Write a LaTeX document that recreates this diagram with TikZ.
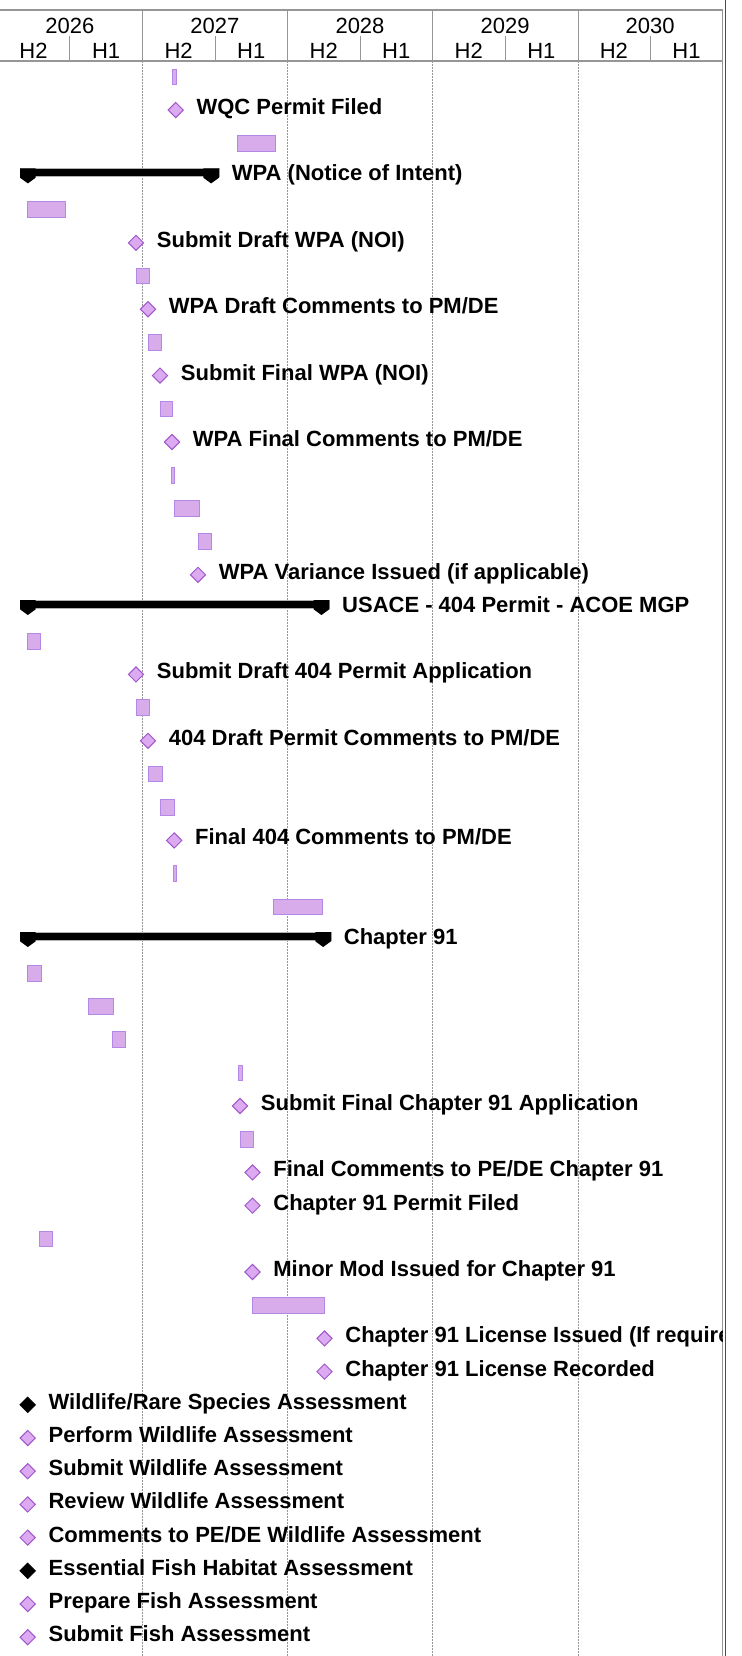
\documentclass[tikz,border=0pt]{standalone}
\usepackage{fontspec}
\setmainfont{Liberation Sans}
\usepackage{xcolor}
\usetikzlibrary{shapes.geometric}
\definecolor{barfill}{RGB}{216,172,234}
\definecolor{barline}{RGB}{180,136,230}
\definecolor{msfill}{RGB}{220,170,240}
\definecolor{msline}{RGB}{160,86,202}
\definecolor{gridgray}{RGB}{150,150,150}
% one row of the chart is 33.2px high, first row centred at 76.8px
\newcommand{\GBar}[3]{\draw[taskbar] (#2,{76.8+33.2*#1-7.8}) rectangle (#3,{76.8+33.2*#1+7.8});}
\newcommand{\GMile}[5][mile]{\node[#1] (#5) at (#3,{76.8+33.2*#2}) {};
  \node[lbl] (#5t) at (#3+20.5,{76.8+33.2*#2+4.5}) {#4};}
\newcommand{\GSum}[5]{\pgfmathsetmacro{\rowc}{76.8+33.2*#1}
  \fill[black, draw=gray!60, line width=0.3pt] (#2,\rowc-8) rectangle (#3,\rowc+0.3);
  \fill[black] (#2,\rowc-8) -- ++(15.7,0) -- ++(0,9.3) -- ++(-7.85,5.7) -- ++(-7.85,-5.7) -- cycle;
  \fill[black] (#3,\rowc-8) -- ++(-15.7,0) -- ++(0,9.3) -- ++(7.85,5.7) -- ++(7.85,-5.7) -- cycle;
  \node[lbl] (#5) at (#3+12.5,\rowc+4.5) {#4};}

\begin{document}
\begin{tikzpicture}[x=0.5pt, y=-0.5pt,
  taskbar/.style={fill=barfill, draw=barline, line width=0.4pt},
  mile/.style={diamond, fill=msfill, draw=msline, line width=0.5pt, inner sep=0pt, minimum width=7.8pt, minimum height=7.8pt},
  sumile/.style={mile, fill=black, draw=black},
  lbl/.style={anchor=base west, inner sep=0pt, font=\bfseries\fontsize{11}{13}\selectfont},
  hdr/.style={anchor=base, inner sep=0pt, font=\fontsize{11}{13}\selectfont}]
\useasboundingbox (0,0) rectangle (741,1656);
%%%%%%%%% header
\draw [gridgray, line width=0.6pt] (0,10) -- (722.7,10);
\draw [gridgray, line width=0.8pt] (0,61) -- (722.7,61);
\draw [gridgray, line width=0.5pt] (69.8,36) -- (69.8,61);
\draw [gridgray, line width=0.5pt] (215,36) -- (215,61);
\draw [gridgray, line width=0.5pt] (360,36) -- (360,61);
\draw [gridgray, line width=0.5pt] (505,36) -- (505,61);
\draw [gridgray, line width=0.5pt] (650.7,36) -- (650.7,61);
\node [hdr] (y26) at (69.8,33.3) {2026};
\node [hdr] (y27) at (214.9,33.3) {2027};
\node [hdr] (y28) at (360,33.3) {2028};
\node [hdr] (y29) at (505.1,33.3) {2029};
\node [hdr] (y30) at (650.2,33.3) {2030};
\node [hdr] (h1) at (33.5,58.3) {H2};
\node [hdr] (h2) at (106.1,58.3) {H1};
\node [hdr] (h3) at (178.6,58.3) {H2};
\node [hdr] (h4) at (251.2,58.3) {H1};
\node [hdr] (h5) at (323.7,58.3) {H2};
\node [hdr] (h6) at (396.3,58.3) {H1};
\node [hdr] (h7) at (468.8,58.3) {H2};
\node [hdr] (h8) at (541.4,58.3) {H1};
\node [hdr] (h9) at (613.9,58.3) {H2};
\node [hdr] (h10) at (686.5,58.3) {H1};
%%%%%%%%% year lines
\draw [gridgray, line width=0.6pt] (142.5,10) -- (142.5,61);
\draw [gridgray, line width=0.6pt] (287.4,10) -- (287.4,61);
\draw [gridgray, line width=0.6pt] (432.7,10) -- (432.7,61);
\draw [gridgray, line width=0.6pt] (578.4,10) -- (578.4,61);
\draw [gridgray, line width=0.5pt, dash pattern=on 1pt off 0.5pt] (142.5,61) -- (142.5,1656);
\draw [gridgray, line width=0.5pt, dash pattern=on 1pt off 0.5pt] (287.4,61) -- (287.4,1656);
\draw [gridgray, line width=0.5pt, dash pattern=on 1pt off 0.5pt] (432.7,61) -- (432.7,1656);
\draw [gridgray, line width=0.5pt, dash pattern=on 1pt off 0.5pt] (578.4,61) -- (578.4,1656);
\draw [gridgray, line width=0.6pt] (722.7,10) -- (722.7,1656);
\draw [black!70, line width=0.7pt] (725.6,0) -- (725.6,1656);
%%%%%%%%% tasks
\begin{scope}
\clip (0,0) rectangle (722,1656);
\GBar{0}{172.3}{176}
\GMile{1}{175.7}{WQC Permit Filed}{wqc}
\GBar{2}{237.3}{275}
\GSum{3}{20}{219}{WPA (Notice of Intent)}{wpa}
\GBar{4}{27.3}{65}
\GMile{5}{136}{Submit Draft WPA (NOI)}{wpad}
\GBar{6}{136}{149}
\GMile{7}{148}{WPA Draft Comments to PM/DE}{wpadc}
\GBar{8}{147.9}{161.5}
\GMile{9}{160}{Submit Final WPA (NOI)}{wpaf}
\GBar{10}{160.4}{172}
\GMile{11}{172}{WPA Final Comments to PM/DE}{wpafc}
\GBar{12}{171}{174}
\GBar{13}{174}{199.5}
\GBar{14}{198.5}{211}
\GMile{15}{198}{WPA Variance Issued (if applicable)}{wpav}
\GSum{16}{20}{329.3}{USACE - 404 Permit - ACOE MGP}{usace}
\GBar{17}{27.3}{40.7}
\GMile{18}{136}{Submit Draft 404 Permit Application}{pd}
\GBar{19}{136}{149}
\GMile{20}{148}{404 Draft Permit Comments to PM/DE}{pdc}
\GBar{21}{148}{162.5}
\GBar{22}{160.4}{174}
\GMile{23}{174.2}{Final 404 Comments to PM/DE}{pfc}
\GBar{24}{173}{176}
\GBar{25}{273}{322.6}
\GSum{26}{20}{331}{Chapter 91}{ch}
\GBar{27}{27}{41}
\GBar{28}{88}{113.4}
\GBar{29}{112}{125.2}
\GBar{30}{238.5}{241.9}
\GMile{31}{240}{Submit Final Chapter 91 Application}{chf}
\GBar{32}{240}{253.7}
\GMile{33}{252.5}{Final Comments to PE/DE Chapter 91}{chfc}
\GMile{34}{252.5}{Chapter 91 Permit Filed}{chpf}
\GBar{35}{39}{52.8}
\GMile{36}{252.5}{Minor Mod Issued for Chapter 91}{chmm}
\GBar{37}{252}{324.7}
\GMile{38}{324.5}{Chapter 91 License Issued (If required)}{chli}
\GMile{39}{324.5}{Chapter 91 License Recorded}{chlr}
\GMile[sumile]{40}{27.7}{Wildlife/Rare Species Assessment}{wl}
\GMile{41}{27.7}{Perform Wildlife Assessment}{wlp}
\GMile{42}{27.7}{Submit Wildlife Assessment}{wls}
\GMile{43}{27.7}{Review Wildlife Assessment}{wlr}
\GMile{44}{27.7}{Comments to PE/DE Wildlife Assessment}{wlc}
\GMile[sumile]{45}{27.7}{Essential Fish Habitat Assessment}{efh}
\GMile{46}{27.7}{Prepare Fish Assessment}{efhp}
\GMile{47}{27.7}{Submit Fish Assessment}{efhs}
\end{scope}
\end{tikzpicture}
\end{document}
